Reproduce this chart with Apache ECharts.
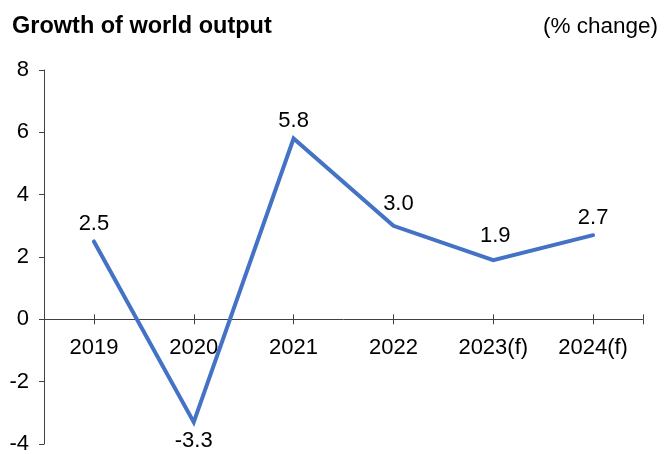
<!DOCTYPE html>
<html>
<head>
<meta charset="utf-8">
<script src="https://cdn.jsdelivr.net/npm/echarts@6/dist/echarts.min.js"></script>
<style>
html,body{margin:0;padding:0;background:#fff;}
#chart{width:664px;height:454px;}
</style>
</head>
<body>
<div id="chart"></div>
<script>
const categories = ['2019', '2020', '2021', '2022', '2023(f)', '2024(f)'];
const growth = [2.5, -3.3, 5.8, 3.0, 1.9, 2.7];
const yTicks = [-4, -2, 0, 2, 4, 6, 8];

const FONT = '"Liberation Sans", Arial, Helvetica, sans-serif';
const W = 664, H = 454;
const G = { left: 44, right: 21, top: 70, bottom: 10 };
const yMin = yTicks[0], yMax = yTicks[yTicks.length - 1];
const zeroY = G.top + (H - G.top - G.bottom) * yMax / (yMax - yMin);

const idx = categories.map((c, i) => i);
const tickValues = idx.concat([categories.length - 0.5]);
const xMin = -0.5, xMax = categories.length - 0.5;

const labelTweaks = {
  1: { position: 'bottom', distance: 7 },
  3: { distance: 10, offset: [5, 0] },
  4: { distance: 13, offset: [2, 0] }
};

const seriesData = growth.map((v, i) => {
  const item = { value: [i, v] };
  if (labelTweaks[i]) item.label = labelTweaks[i];
  return item;
});

const AX = '#404040';

const chart = echarts.init(document.getElementById('chart'), null, { renderer: 'canvas' });
chart.setOption({
  backgroundColor: '#ffffff',
  animation: false,
  title: [
    { text: 'Growth of world output', left: 12, top: 15, padding: 0,
      textStyle: { fontFamily: FONT, fontSize: 23.5, fontWeight: 'bold', color: '#000' } },
    { text: '(% change)', right: 6, top: 15, padding: 0,
      textStyle: { fontFamily: FONT, fontSize: 22.5, fontWeight: 'normal', color: '#000' } }
  ],
  grid: [
    { left: G.left, right: G.right, top: G.top, bottom: G.bottom, outerBoundsMode: 'none', containLabel: false },
    { left: G.left, right: G.right, top: G.top, bottom: H - zeroY, outerBoundsMode: 'none', containLabel: false },
    { left: G.left, right: G.right, top: zeroY, bottom: G.bottom, outerBoundsMode: 'none', containLabel: false }
  ],
  xAxis: [
    { gridIndex: 0, type: 'value', min: xMin, max: xMax, show: false },
    {
      gridIndex: 1, type: 'value', min: xMin, max: xMax, position: 'bottom',
      axisLine: { show: true, onZero: false, lineStyle: { color: AX, width: 1 } },
      axisTick: { show: true, length: 5, inside: false, customValues: tickValues,
                  lineStyle: { color: AX, width: 1 } },
      axisLabel: { show: true, customValues: idx, margin: 18,
                   formatter: v => categories[Math.round(v)],
                   fontFamily: FONT, fontSize: 22, color: '#000' },
      splitLine: { show: false }
    },
    {
      gridIndex: 2, type: 'value', min: xMin, max: xMax, position: 'top',
      axisLine: { show: false, onZero: false },
      axisTick: { show: true, length: 5, inside: false, customValues: tickValues,
                  lineStyle: { color: AX, width: 1 } },
      axisLabel: { show: false },
      splitLine: { show: false }
    }
  ],
  yAxis: [
    {
      gridIndex: 0, type: 'value', min: yMin, max: yMax, interval: 2,
      axisLine: { show: true, onZero: false, lineStyle: { color: AX, width: 1 } },
      axisTick: { show: true, length: 5, inside: false, lineStyle: { color: AX, width: 1 } },
      axisLabel: { margin: 15, fontFamily: FONT, fontSize: 22, color: '#000' },
      splitLine: { show: false }
    },
    { gridIndex: 1, type: 'value', min: 0, max: yMax, show: false },
    { gridIndex: 2, type: 'value', min: yMin, max: 0, show: false }
  ],
  series: [{
    type: 'line',
    xAxisIndex: 0,
    yAxisIndex: 0,
    data: seriesData,
    showSymbol: true,
    symbol: 'circle',
    symbolSize: 1,
    lineStyle: { color: '#4472C4', width: 4, cap: 'round', join: 'miter' },
    itemStyle: { color: '#4472C4' },
    label: {
      show: true, position: 'top', distance: 6,
      formatter: p => p.value[1].toFixed(1),
      fontFamily: FONT, fontSize: 22, color: '#000'
    }
  }]
});
</script>
</body>
</html>
